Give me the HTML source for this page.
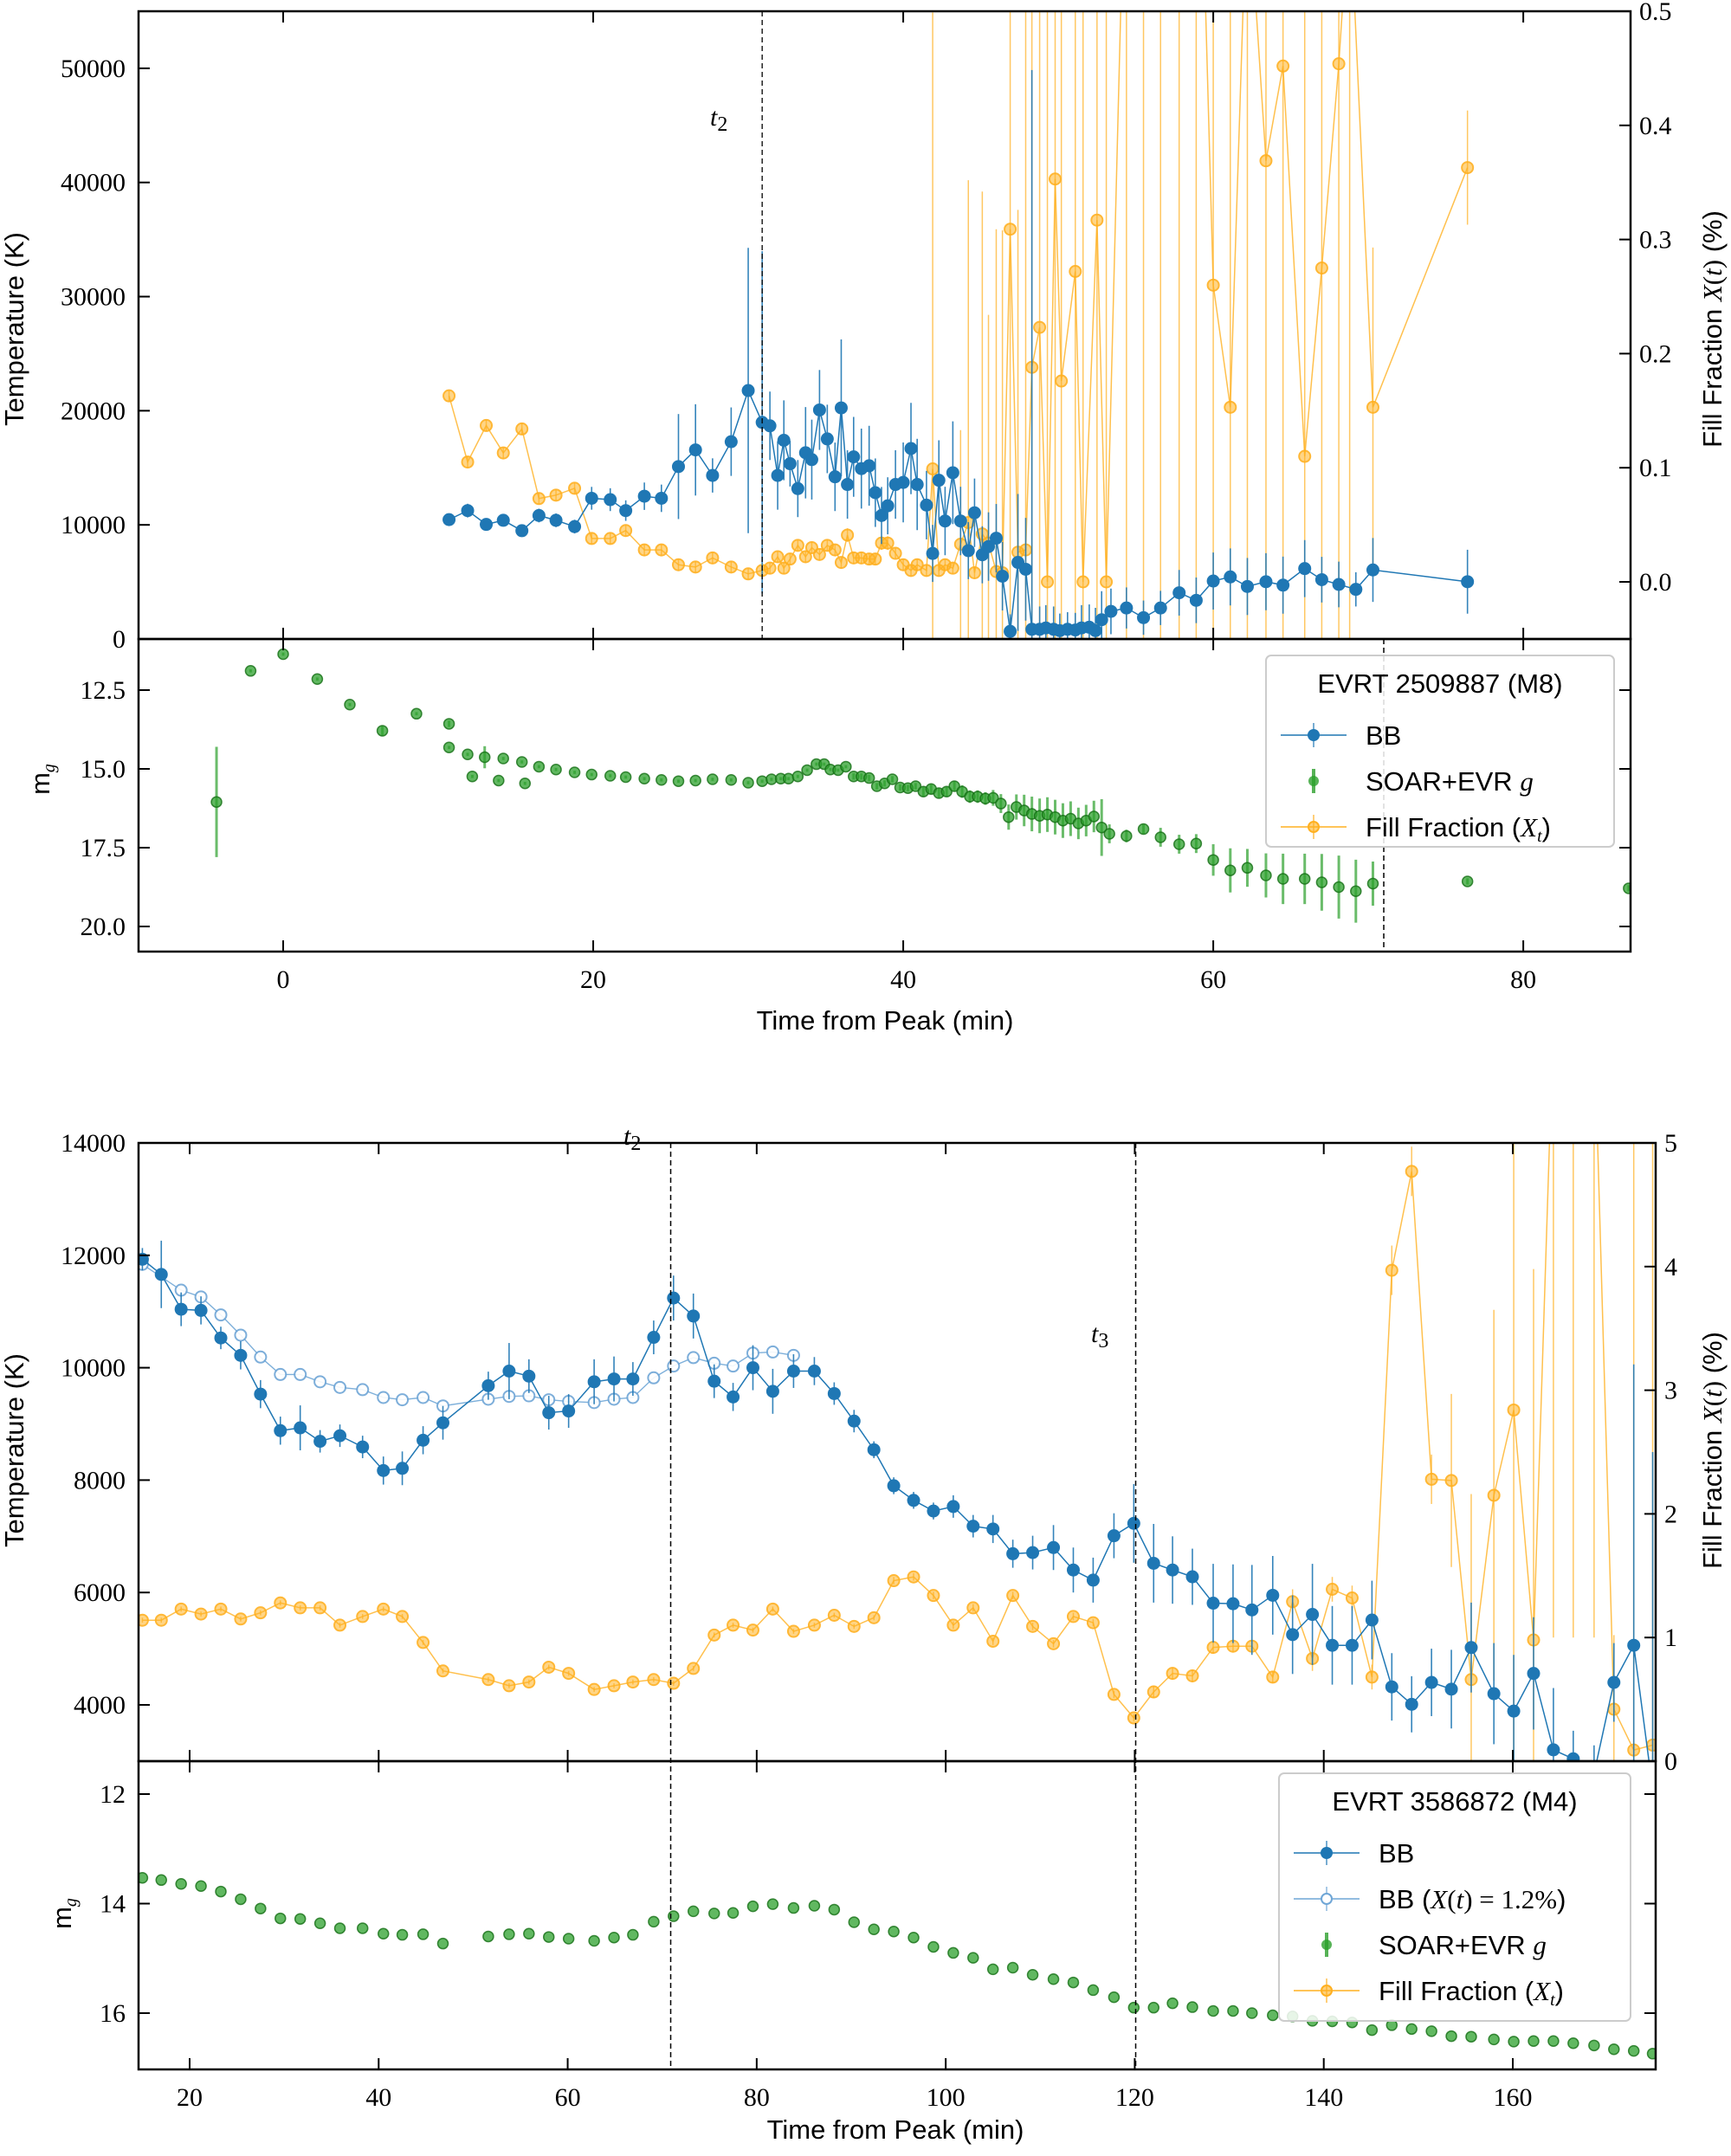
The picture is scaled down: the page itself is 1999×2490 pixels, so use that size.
<!DOCTYPE html>
<html><head><meta charset="utf-8"><style>
html,body{margin:0;padding:0;background:#fff;overflow:hidden;width:1999px;height:2490px}
svg{display:block}
.tk{font-family:"Liberation Serif",serif;font-size:30px;fill:#000}
.ax{font-family:"Liberation Sans",sans-serif;font-size:31px;fill:#000}
.lg{font-family:"Liberation Sans",sans-serif;font-size:31px;fill:#000}
</style></head><body>
<svg id="fig" xmlns="http://www.w3.org/2000/svg" width="1999" height="2490" viewBox="0 0 1999 2490">
<defs>
<clipPath id="c1"><rect x="160" y="13" width="1723" height="725"/></clipPath>
<clipPath id="c2"><rect x="160" y="738" width="1723" height="361"/></clipPath>
<clipPath id="c3"><rect x="160" y="1320" width="1752" height="714"/></clipPath>
<clipPath id="c4"><rect x="160" y="2034" width="1752" height="356"/></clipPath>
</defs>
</svg>
<script>
// ---- Panel 1 (EVRT 2509887) data ----
const p1BBTime=[10.7,11.9,13.1,14.2,15.4,16.5,17.6,18.8,19.9,21.1,22.1,23.3,24.4,25.5,26.6,27.7,28.9,30.0,30.9,31.4,31.9,32.3,32.7,33.2,33.7,34.1,34.6,35.1,35.6,36.0,36.4,36.8,37.3,37.8,38.2,38.6,39.0,39.5,40.0,40.5,40.9,41.5,41.9,42.3,42.7,43.2,43.7,44.2,44.6,45.1,45.5,46.0,46.4,46.9,47.4,47.9,48.3,48.8,49.2,49.7,50.1,50.6,51.1,51.5,52.0,52.4,52.8,53.4,54.4,55.5,56.6,57.8,58.9,60.0,61.1,62.2,63.4,64.5,65.9,67.0,68.1,69.2,70.3,76.4];
const p1BB=[10460,11250,10040,10400,9490,10820,10400,9850,12330,12210,11250,12510,12330,15110,16570,14330,17290,21770,18980,18680,14330,17410,15360,13180,16320,15720,20070,17530,14210,20250,13540,15960,14930,15180,12820,10820,11670,13540,13720,16690,13540,11730,7500,13910,10340,14570,10340,7740,11060,7380,8100,8830,5500,670,6710,6110,850,850,970,850,730,850,790,970,1030,730,1690,2420,2720,1870,2720,4050,3390,5080,5440,4600,5020,4720,6170,5200,4780,4350,6050,5020];
const p1BBErr=[500,600,400,500,500,600,600,600,1000,1000,900,1200,1200,4600,4000,1500,3000,12500,15000,3000,3000,3500,2000,2500,4000,3500,3500,3000,3000,6000,3000,3500,3500,3500,3000,2500,2500,3000,3500,4000,4000,3000,2500,3500,3000,4500,3000,2500,3000,2500,3000,3000,3000,1500,6000,4500,49000,2000,2000,2000,1500,1500,1500,2000,2000,2000,2500,2000,1800,1500,1500,2000,2000,2500,2500,2500,2500,2500,2500,2000,2000,1500,2800,2800];
const p1FillTime=[10.7,11.9,13.1,14.2,15.4,16.5,17.6,18.8,19.9,21.1,22.1,23.3,24.4,25.5,26.6,27.7,28.9,30.0,30.9,31.4,31.9,32.3,32.7,33.2,33.7,34.1,34.6,35.1,35.6,36.0,36.4,36.8,37.3,37.8,38.2,38.6,39.0,39.5,40.0,40.5,40.9,41.5,41.9,42.3,42.7,43.2,43.7,44.2,44.6,45.1,45.5,46.0,46.4,46.9,47.4,47.9,48.3,48.8,49.3,49.8,50.2,51.1,51.6,52.5,53.1,54.4,55.5,56.6,57.8,58.9,60.0,61.1,62.2,63.4,64.5,65.9,67.0,68.1,68.8,70.3,76.4];
const p1Fill=[0.163,0.105,0.137,0.113,0.134,0.073,0.076,0.082,0.038,0.038,0.045,0.028,0.028,0.015,0.013,0.021,0.013,0.007,0.010,0.012,0.022,0.012,0.020,0.032,0.022,0.030,0.024,0.032,0.028,0.017,0.041,0.021,0.021,0.020,0.020,0.034,0.034,0.025,0.015,0.010,0.015,0.010,0.099,0.010,0.015,0.012,0.033,0.052,0.008,0.042,0.034,0.009,0.008,0.309,0.026,0.028,0.188,0.223,0.0,0.353,0.176,0.272,0.0,0.317,0.0,0.7,0.8,0.75,0.7,0.8,0.260,0.153,0.62,0.369,0.452,0.110,0.275,0.454,0.60,0.153,0.363];
const p1FillErr=[0.005,0.005,0.005,0.005,0.005,0.005,0.005,0.005,0.005,0.005,0.005,0.005,0.005,0.005,0.005,0.005,0.005,0.005,0.005,0.005,0.005,0.005,0.005,0.005,0.005,0.005,0.005,0.005,0.005,0.005,0.006,0.005,0.005,0.005,0.005,0.006,0.006,0.005,0.005,0.005,0.005,0.005,0.4,0.005,0.005,0.005,0.1,0.3,0.005,0.3,0.2,0.3,0.3,1,0.3,0.5,1,1,1,1,1,1,1,1,1,1,1,1,1,1,1,1,1,1,1,1,1,1,1,0.14,0.05];
const p1MagTime=[-4.3,-2.1,0.0,2.2,4.3,6.4,8.6,10.7,10.7,11.9,12.2,13.0,13.9,14.2,15.4,15.6,16.5,17.6,18.8,19.9,21.1,22.1,23.3,24.4,25.5,26.6,27.7,28.9,30.0,30.9,31.5,32.1,32.6,33.2,33.8,34.4,34.9,35.3,35.8,36.3,36.8,37.3,37.8,38.3,38.8,39.3,39.8,40.3,40.8,41.3,41.8,42.3,42.8,43.3,43.8,44.3,44.8,45.3,45.8,46.3,46.8,47.3,47.8,48.3,48.8,49.3,49.8,50.3,50.8,51.3,51.8,52.3,52.8,53.3,54.4,55.5,56.6,57.8,58.9,60.0,61.1,62.2,63.4,64.5,65.9,67.0,68.1,69.2,70.3,76.4,86.8];
const p1Mag=[16.05,11.89,11.36,12.15,12.96,13.79,13.25,13.57,14.32,14.54,15.24,14.63,15.37,14.67,14.78,15.46,14.93,15.02,15.11,15.18,15.22,15.26,15.31,15.35,15.39,15.37,15.33,15.35,15.44,15.39,15.33,15.31,15.31,15.24,15.04,14.85,14.85,15.02,15.04,14.93,15.24,15.24,15.29,15.55,15.46,15.33,15.59,15.61,15.55,15.72,15.64,15.77,15.72,15.55,15.72,15.88,15.88,15.94,15.92,16.10,16.53,16.21,16.32,16.43,16.49,16.45,16.53,16.64,16.58,16.73,16.64,16.51,16.86,17.06,17.13,16.91,17.17,17.39,17.37,17.89,18.22,18.14,18.38,18.49,18.49,18.60,18.75,18.88,18.64,18.57,18.79];
const p1MagErr=[1.75,0.05,0.05,0.05,0.05,0.15,0.05,0.1,0.05,0.05,0.05,0.35,0.05,0.05,0.05,0.05,0.05,0.05,0.05,0.05,0.05,0.05,0.05,0.05,0.05,0.05,0.05,0.05,0.05,0.05,0.05,0.05,0.05,0.05,0.05,0.05,0.05,0.05,0.05,0.05,0.1,0.1,0.1,0.1,0.1,0.1,0.1,0.1,0.1,0.15,0.15,0.15,0.15,0.15,0.2,0.2,0.2,0.2,0.25,0.3,0.4,0.4,0.5,0.55,0.55,0.55,0.55,0.55,0.55,0.5,0.5,0.5,0.9,0.3,0.2,0.15,0.3,0.3,0.3,0.5,0.7,0.6,0.7,0.8,0.8,0.9,1.0,1.0,0.7,0.1,0.1];
const p1X0=[0,20,40,60,80];
const p1TTicks=[0,10000,20000,30000,40000,50000];
const p1FTicks=[0.0,0.1,0.2,0.3,0.4,0.5];
const p1FTickLabels=["0.0","0.1","0.2","0.3","0.4","0.5"];
const p1MTicks=[12.5,15.0,17.5,20.0];
const p1MTickLabels=["12.5","15.0","17.5","20.0"];
// ---- Panel 2 (EVRT 3586872) data ----
const p2Time=[15.0,17.0,19.1,21.2,23.3,25.4,27.5,29.6,31.7,33.8,35.9,38.3,40.5,42.5,44.7,46.8,51.6,53.8,55.9,58.0,60.1,62.8,64.9,66.9,69.1,71.2,73.3,75.5,77.5,79.6,81.7,83.9,86.1,88.2,90.3,92.4,94.5,96.6,98.7,100.8,102.9,105.0,107.1,109.2,111.4,113.5,115.6,117.8,119.9,122.0,124.0,126.1,128.3,130.4,132.4,134.6,136.7,138.8,140.9,143.0,145.1,147.2,149.3,151.4,153.5,155.6,158.0,160.1,162.2,164.3,166.4,168.6,170.7,172.8,174.8];
const p2BB=[11930,11660,11040,11020,10530,10220,9530,8880,8930,8690,8790,8590,8170,8210,8710,9020,9680,9940,9850,9200,9230,9750,9800,9800,10540,11240,10920,9760,9480,10000,9580,9940,9940,9540,9050,8540,7900,7640,7450,7530,7180,7130,6690,6710,6800,6400,6220,7010,7230,6520,6400,6280,5810,5800,5690,5950,5250,5610,5060,5060,5510,4320,4010,4400,4280,5020,4200,3890,4560,3200,3040,2780,4400,5060,2500];
const p2BBErr=[200,600,300,250,200,250,250,250,400,200,200,200,250,300,250,300,250,500,300,300,300,400,400,300,300,400,400,300,250,400,400,300,250,200,200,150,150,150,150,200,200,250,250,300,400,400,400,400,700,700,600,500,700,700,800,700,700,900,700,700,700,600,500,600,700,800,900,1000,1000,1100,500,500,700,5000,6000];
const p2LightTime=[15.0,19.1,21.2,23.3,25.4,27.5,29.6,31.7,33.8,35.9,38.3,40.5,42.5,44.7,46.8,51.6,53.8,55.9,58.0,60.1,62.8,64.9,66.9,69.1,71.2,73.3,75.5,77.5,79.6,81.7,83.9];
const p2Light=[11840,11380,11260,10940,10580,10190,9880,9880,9750,9650,9610,9470,9430,9470,9320,9440,9490,9500,9430,9400,9380,9440,9470,9820,10030,10180,10080,10030,10260,10280,10220];
const p2Fill=[1.14,1.14,1.23,1.19,1.23,1.15,1.20,1.28,1.24,1.24,1.10,1.17,1.23,1.17,0.96,0.73,0.66,0.61,0.64,0.76,0.71,0.58,0.61,0.64,0.66,0.63,0.75,1.02,1.10,1.06,1.23,1.05,1.10,1.18,1.09,1.16,1.46,1.49,1.34,1.10,1.24,0.97,1.34,1.09,0.95,1.17,1.12,0.54,0.35,0.56,0.71,0.69,0.92,0.93,0.93,0.68,1.29,0.83,1.39,1.32,0.68,3.97,4.77,2.28,2.27,0.66,2.15,2.84,0.98,6.0,6.0,6.0,0.42,0.09,0.13];
const p2FillErr=[0.02,0.02,0.02,0.02,0.02,0.02,0.02,0.02,0.02,0.02,0.02,0.02,0.02,0.02,0.02,0.02,0.02,0.02,0.02,0.02,0.02,0.02,0.02,0.02,0.02,0.02,0.02,0.02,0.02,0.02,0.02,0.02,0.02,0.02,0.02,0.02,0.03,0.03,0.03,0.03,0.03,0.03,0.03,0.03,0.03,0.03,0.03,0.03,0.03,0.05,0.05,0.05,0.05,0.05,0.05,0.05,0.1,0.1,0.1,0.1,0.1,0.2,0.2,0.2,0.7,1.5,1.5,3,3,5,5,5,0.6,5,5];
const p2Mag=[13.53,13.57,13.64,13.68,13.78,13.92,14.09,14.27,14.28,14.36,14.45,14.45,14.55,14.57,14.56,14.73,14.60,14.56,14.55,14.61,14.64,14.68,14.62,14.57,14.33,14.23,14.14,14.18,14.17,14.05,14.01,14.08,14.04,14.11,14.34,14.47,14.51,14.62,14.79,14.90,14.99,15.20,15.17,15.30,15.38,15.44,15.58,15.71,15.90,15.90,15.82,15.89,15.96,15.96,16.00,16.04,16.06,16.14,16.15,16.17,16.31,16.22,16.29,16.33,16.42,16.43,16.48,16.52,16.51,16.51,16.55,16.59,16.66,16.69,16.74];
const p2XTicks=[20,40,60,80,100,120,140,160];
const p2TTicks=[4000,6000,8000,10000,12000,14000];
const p2FTicks=[0,1,2,3,4,5];
const p2MTicks=[12,14,16];

const NS="http://www.w3.org/2000/svg";
const svg=document.getElementById('fig');
function lin(d0,d1,r0,r1){return v=>r0+(v-d0)*(r1-r0)/(d1-d0);}
function el(tag,attrs,parent){const e=document.createElementNS(NS,tag);for(const k in attrs)e.setAttribute(k,attrs[k]);(parent||svg).appendChild(e);return e;}
function grp(name,clip){const g=el('g',clip?{'clip-path':'url(#'+clip+')'}:{});


return g;}
const BLUE='#1f77b4',ORANGE='#ffb020',GREEN='#2ca02c',LBLUE='#6fa6d6';
const clampY=(y,lo,hi)=>Math.max(lo,Math.min(hi,y));

function errbars(g,xs,ys,es,X,Y,color,w,op,lo,hi){for(let i=0;i<xs.length;i++){const l=el('line',{x1:X(xs[i]),x2:X(xs[i]),y1:clampY(Y(ys[i]-es[i]),lo,hi),y2:clampY(Y(ys[i]+es[i]),lo,hi),stroke:color,'stroke-width':w,opacity:op},g);

}}
function polyline(g,xs,ys,X,Y,color,w,op){const p=el('polyline',{points:xs.map((x,i)=>X(x)+','+Y(ys[i])).join(' '),fill:'none',stroke:color,'stroke-width':w,opacity:op},g);

}
function dots(g,xs,ys,X,Y,r,fill,stroke,sw,op,name){for(let i=0;i<xs.length;i++){const c=el('circle',{cx:X(xs[i]),cy:Y(ys[i]),r:r,fill:fill,stroke:stroke,'stroke-width':sw,opacity:op},g);

}}
function text(x,y,s,cls,anchor,extra){const t=el('text',Object.assign({x:x,y:y,class:cls,'text-anchor':anchor||'middle'},extra||{}));t.textContent=s;return t;}

// ===== Panel 1 =====
const X1=lin(-9.33,86.92,160,1883),T1=lin(0,55000,738,13),F1=lin(0,0.5,672,13),M1=lin(12.5,20,797,1070);
let g=grp('fill-fraction-series-top','c1');
errbars(g,p1FillTime,p1Fill,p1FillErr,X1,F1,ORANGE,1.5,0.7,13,738);
polyline(g,p1FillTime,p1Fill,X1,F1,ORANGE,1.5,0.8);
dots(g,p1FillTime,p1Fill,X1,F1,6.5,'rgba(255,176,32,0.6)',ORANGE,2,0.9,'fill-point');
g=grp('bb-series-top','c1');
errbars(g,p1BBTime,p1BB,p1BBErr,X1,T1,BLUE,1.6,0.9,13,738);
polyline(g,p1BBTime,p1BB,X1,T1,BLUE,1.5,1);
dots(g,p1BBTime,p1BB,X1,T1,7.5,BLUE,'none',0,1,'bb-point');
g=grp('mag-series-top','c2');
errbars(g,p1MagTime,p1Mag,p1MagErr,X1,M1,GREEN,3,0.7,738,1099);
dots(g,p1MagTime,p1Mag,X1,M1,6,'rgba(44,160,44,0.75)','rgba(20,110,20,0.8)',1.5,1,'mag-point');
let d=el('line',{x1:X1(30.9),x2:X1(30.9),y1:13,y2:738,stroke:'#000','stroke-width':1.3,'stroke-dasharray':'6,4'});


d=el('line',{x1:X1(71.0),x2:X1(71.0),y1:738,y2:1099,stroke:'#000','stroke-width':1.5,'stroke-dasharray':'6,4'});


let t=text(820,145,'t','tk','start',{'font-style':'italic','font-size':'36'});


t=el('tspan',{'font-size':'24',dy:'6','font-style':'normal'},t);t.textContent='2';

function frame(x0,y0,x1,y1,name){const r=el('rect',{x:x0,y:y0,width:x1-x0,height:y1-y0,fill:'none',stroke:'#000','stroke-width':2.5});

}
frame(160,13,1883,738,'plot-frame-temperature-top');
frame(160,738,1883,1099,'plot-frame-mag-top');
function xticks(vals,X,ys,labY){for(const v of vals){for(const [y,dir] of ys){el('line',{x1:X(v),x2:X(v),y1:y,y2:y+dir*13,stroke:'#000','stroke-width':2});}
if(labY){const tt=text(X(v),labY,String(v),'tk');

}}}
xticks(p1X0,X1,[[13,1],[738,-1],[738,1],[1099,-1]],1141);
function yticks(vals,Y,labels,xL,xR,side,labX,anchor,name){vals.forEach((v,i)=>{if(xL!==null)el('line',{x1:xL,x2:xL+13,y1:Y(v),y2:Y(v),stroke:'#000','stroke-width':2});
if(xR!==null)el('line',{x1:xR,x2:xR-13,y1:Y(v),y2:Y(v),stroke:'#000','stroke-width':2});
if(labX!==null){const tt=text(labX,Y(v)+10,labels[i],'tk',anchor);

}});}
yticks(p1TTicks,T1,p1TTicks.map(String),160,null,0,145,'end','temperature-tick-label');
yticks(p1FTicks,F1,p1FTickLabels,null,1883,0,1893,'start','fill-tick-label');
yticks(p1MTicks,M1,p1MTickLabels,160,1883,0,145,'end','mag-tick-label');

function rotText(x,y,s,name){const tt=el('text',{x:0,y:0,class:'ax','text-anchor':'middle',transform:'translate('+x+','+y+') rotate(-90)'});


tt.innerHTML=s;return tt;}
const fillTitle='Fill Fraction <tspan font-family="Liberation Serif" font-style="italic">X</tspan><tspan font-family="Liberation Serif">(</tspan><tspan font-family="Liberation Serif" font-style="italic">t</tspan><tspan font-family="Liberation Serif">)</tspan> (%)';
rotText(27,380,'Temperature (K)','y-axis-title-temperature-top');
rotText(1988,380,fillTitle,'y-axis-title-fill-top');
rotText(57,900,'m<tspan font-size="20" font-style="italic" dy="6" font-family="Liberation Serif">g</tspan>','y-axis-title-mag-top');
t=text(1022,1189,'Time from Peak (min)','ax');



function legend(x,y,w,h,title,entries,name){const lg=el('g',{});


el('rect',{x:x,y:y,width:w,height:h,rx:6,fill:'rgba(255,255,255,0.85)',stroke:'#ccc','stroke-width':2},lg);
const tt=el('text',{x:x+w/2,y:y+43,class:'lg','text-anchor':'middle','font-size':'34'},lg);tt.textContent=title;
entries.forEach((e,i)=>{const cy=y+92+i*53;const ex=x+55;
if(e.line)el('line',{x1:ex-38,x2:ex+38,y1:cy,y2:cy,stroke:e.color,'stroke-width':1.5},lg);
el('line',{x1:ex,x2:ex,y1:cy-14,y2:cy+14,stroke:e.color,'stroke-width':e.ew||1.5,opacity:0.8},lg);
el('circle',{cx:ex,cy:cy,r:e.r,fill:e.fill,stroke:e.stroke||'none','stroke-width':2},lg);
const et=el('text',{x:x+115,y:cy+11,class:'lg'},lg);et.innerHTML=e.label;});}
const gL='<tspan font-family="Liberation Serif" font-style="italic">g</tspan>';
const XtL='Fill Fraction (<tspan font-family="Liberation Serif" font-style="italic">X</tspan><tspan font-family="Liberation Serif" font-style="italic" font-size="20" dy="6">t</tspan><tspan dy="-6">)</tspan>';
legend(1462,757,402,221,'EVRT 2509887 (M8)',[
{line:1,color:BLUE,r:7,fill:BLUE,label:'BB'},
{line:0,color:GREEN,r:6,fill:'rgba(44,160,44,0.8)',ew:4,label:'SOAR+EVR '+gL},
{line:1,color:ORANGE,r:6,fill:'rgba(255,176,32,0.6)',stroke:ORANGE,label:XtL}],'legend-top');

// ===== Panel 2 =====
const X2=lin(20,160,219,1747),T2=lin(4000,14000,1969,1320),F2=lin(0,5,2034,1320),M2=lin(12,16,2072,2325);
g=grp('fill-fraction-series-bottom','c3');
errbars(g,p2Time,p2Fill,p2FillErr,X2,F2,ORANGE,1.5,0.7,1320,2034);
polyline(g,p2Time,p2Fill,X2,F2,ORANGE,1.5,0.8);
dots(g,p2Time,p2Fill,X2,F2,6.5,'rgba(255,176,32,0.6)',ORANGE,2,0.9,'fill-point');
g=grp('bb-fixed-series-bottom','c3');
polyline(g,p2LightTime,p2Light,X2,T2,LBLUE,1.4,0.9);
dots(g,p2LightTime,p2Light,X2,T2,6.5,'#fff',LBLUE,2,0.9,'bb-fixed-point');
g=grp('bb-series-bottom','c3');
errbars(g,p2Time,p2BB,p2BBErr,X2,T2,BLUE,1.6,0.9,1320,2034);
polyline(g,p2Time,p2BB,X2,T2,BLUE,1.5,1);
dots(g,p2Time,p2BB,X2,T2,7.5,BLUE,'none',0,1,'bb-point');
g=grp('mag-series-bottom','c4');
dots(g,p2Time,p2Mag,X2,M2,6,'rgba(44,160,44,0.75)','rgba(20,110,20,0.8)',1.5,1,'mag-point');
[[70.9,'t2-line-bottom'],[120.1,'t3-line']].forEach(([v,n])=>{const dl=el('line',{x1:X2(v),x2:X2(v),y1:1320,y2:2390,stroke:'#000','stroke-width':1.5,'stroke-dasharray':'6,4'});

});
t=text(720,1322,'t','tk','start',{'font-style':'italic','font-size':'36'});


el('tspan',{'font-size':'24',dy:'6','font-style':'normal'},t).textContent='2';
t=text(1260,1550,'t','tk','start',{'font-style':'italic','font-size':'36'});


el('tspan',{'font-size':'24',dy:'6','font-style':'normal'},t).textContent='3';
frame(160,1320,1912,2034,'plot-frame-temperature-bottom');
frame(160,2034,1912,2390,'plot-frame-mag-bottom');
xticks(p2XTicks,X2,[[1320,1],[2034,-1],[2034,1],[2390,-1]],2432);
yticks(p2TTicks,T2,p2TTicks.map(String),160,null,0,145,'end','temperature-tick-label');
yticks(p2FTicks,F2,p2FTicks.map(String),null,1912,0,1922,'start','fill-tick-label');
yticks(p2MTicks,M2,p2MTicks.map(String),160,1912,0,145,'end','mag-tick-label');
rotText(27,1675,'Temperature (K)','y-axis-title-temperature-bottom');
rotText(1988,1675,fillTitle,'y-axis-title-fill-bottom');
rotText(82,2210,'m<tspan font-size="20" font-style="italic" dy="6" font-family="Liberation Serif">g</tspan>','y-axis-title-mag-bottom');
t=text(1034,2470,'Time from Peak (min)','ax');


legend(1477,2048,406,286,'EVRT 3586872 (M4)',[
{line:1,color:BLUE,r:7,fill:BLUE,label:'BB'},
{line:1,color:LBLUE,r:6,fill:'#fff',stroke:LBLUE,label:'BB (<tspan font-family="Liberation Serif" font-style="italic">X</tspan><tspan font-family="Liberation Serif">(</tspan><tspan font-family="Liberation Serif" font-style="italic">t</tspan><tspan font-family="Liberation Serif">) = 1.2%</tspan>)'},
{line:0,color:GREEN,r:6,fill:'rgba(44,160,44,0.8)',ew:4,label:'SOAR+EVR '+gL},
{line:1,color:ORANGE,r:6,fill:'rgba(255,176,32,0.6)',stroke:ORANGE,label:XtL}],'legend-bottom');
</script>
</body></html>
